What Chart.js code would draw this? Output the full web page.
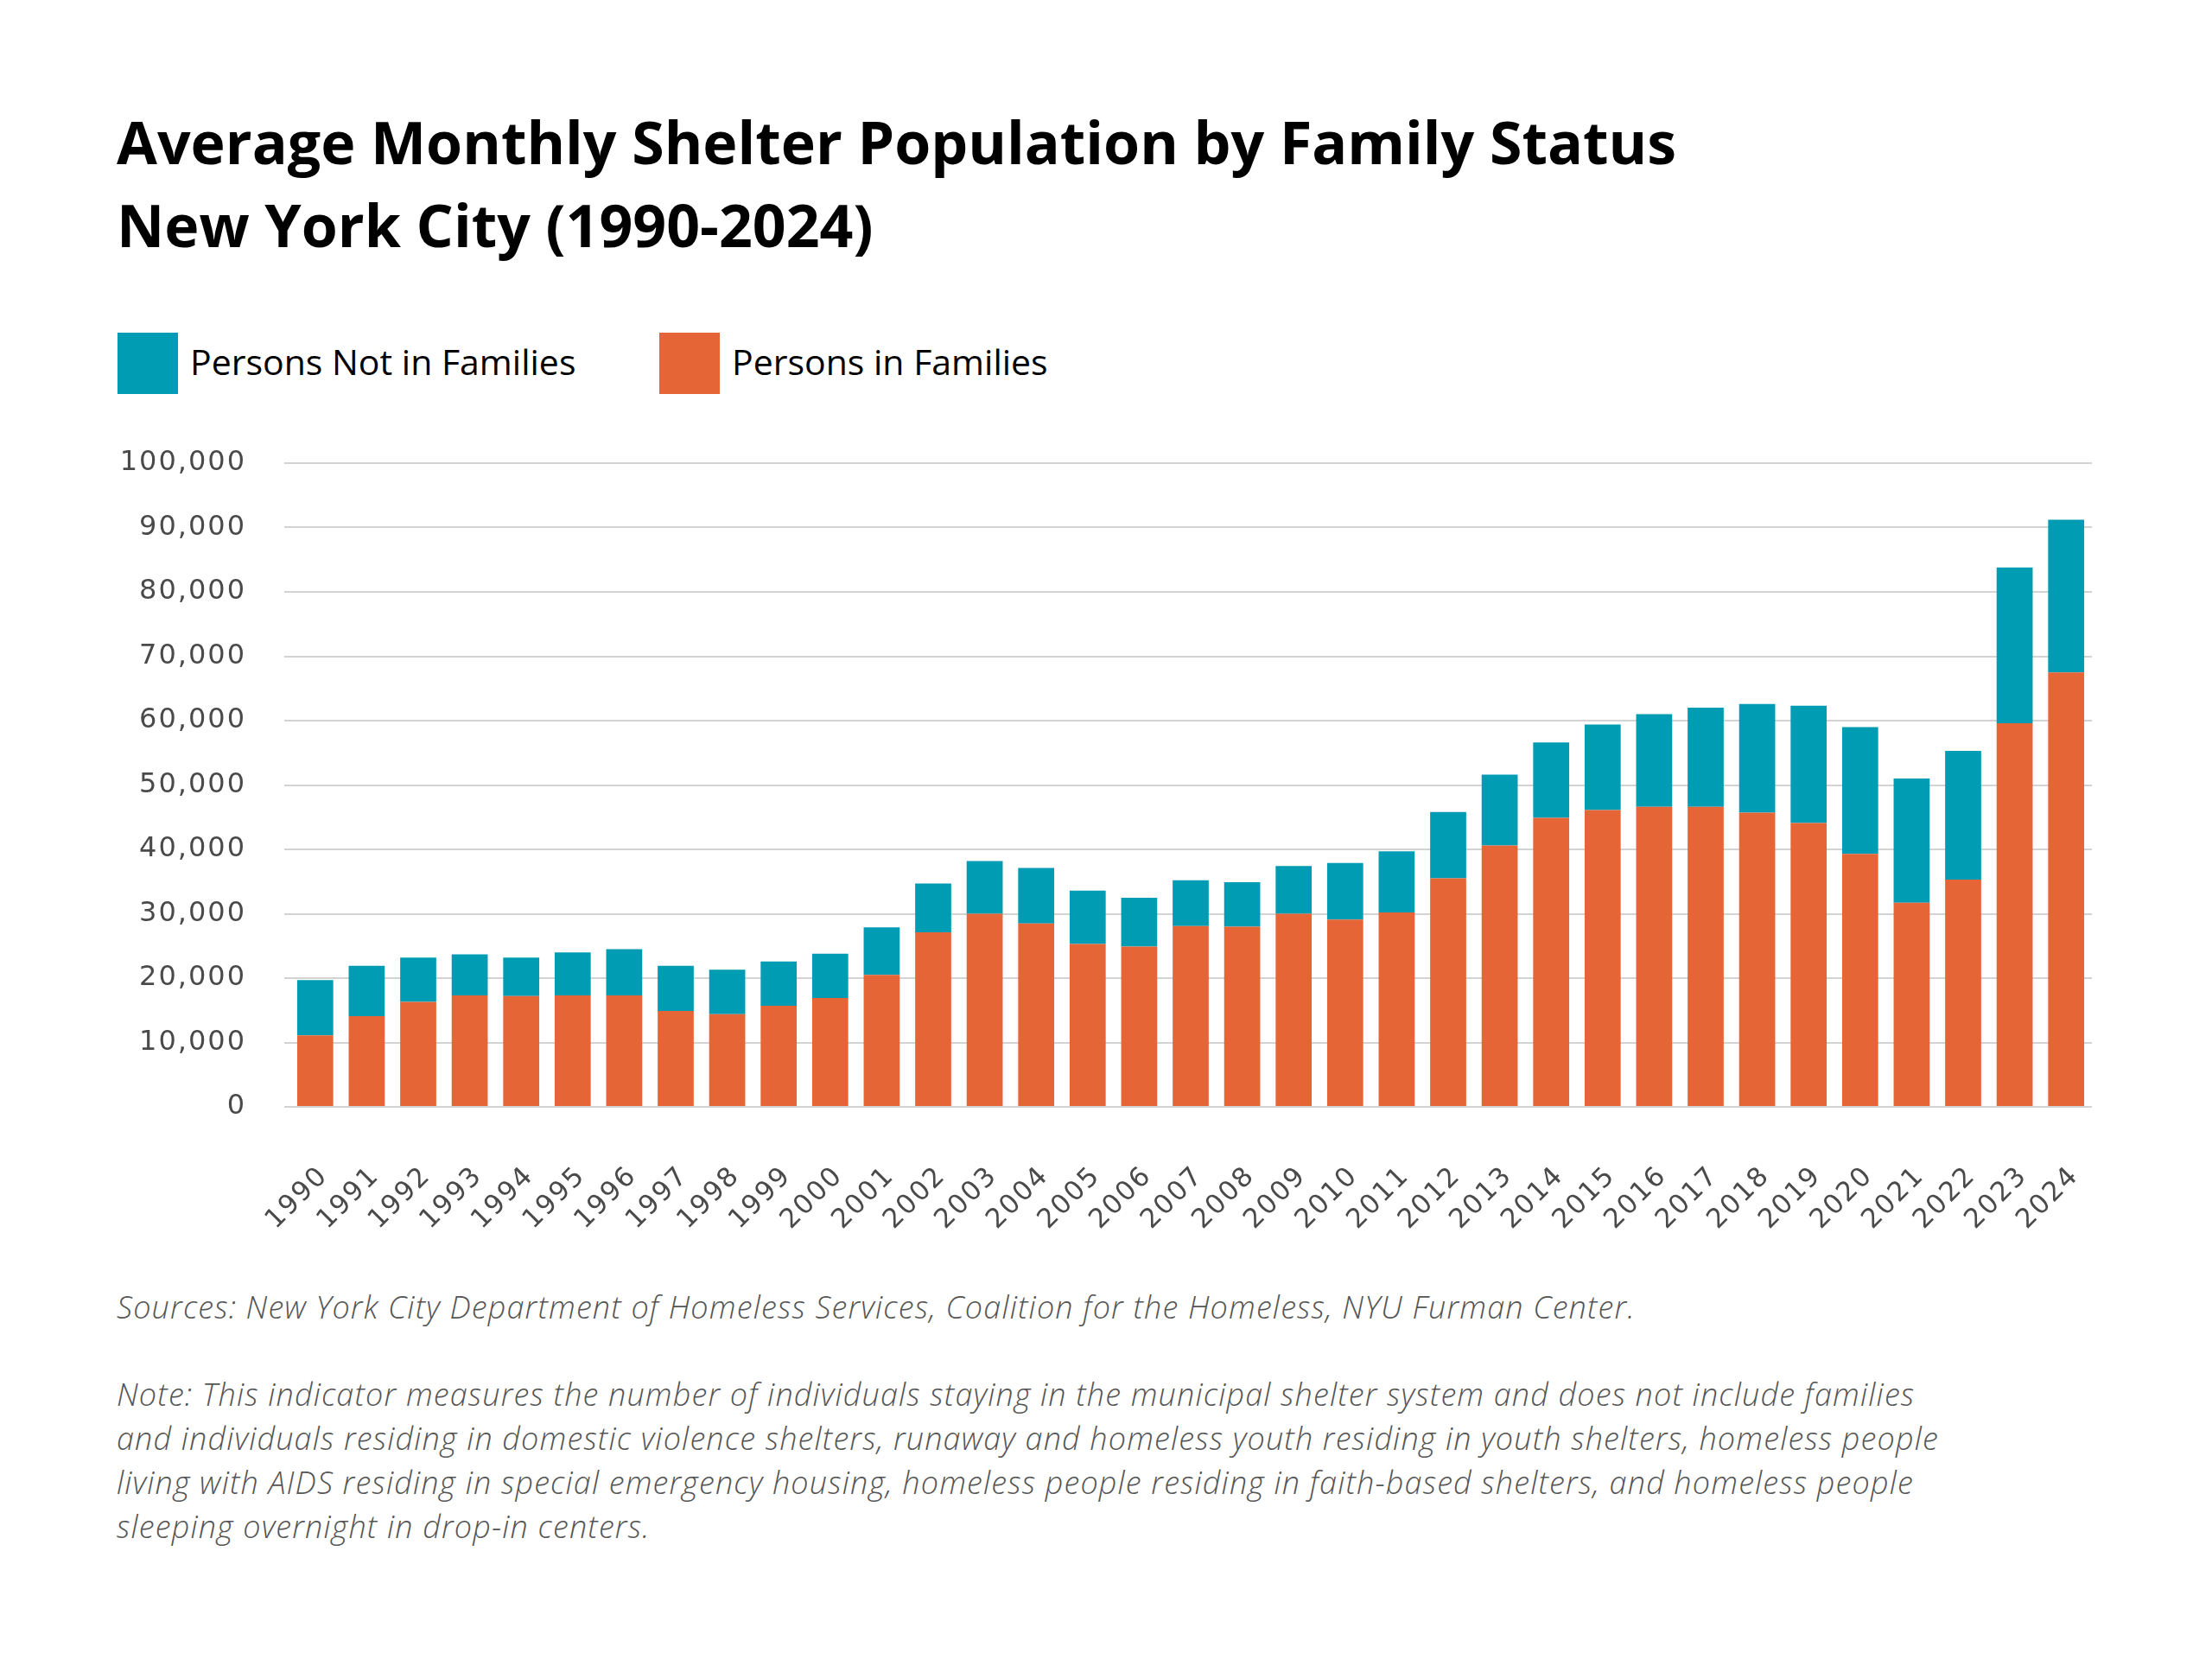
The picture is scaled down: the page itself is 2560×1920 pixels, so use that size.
<!DOCTYPE html>
<html>
<head>
<meta charset="utf-8">
<script src="https://cdn.jsdelivr.net/npm/chart.js@4.4.1/dist/chart.umd.min.js"></script>
<style>
  body { margin: 0; background: #fff; width: 2560px; height: 1920px; position: relative; overflow: hidden; }
  .title { position: absolute; left: 135px; top: 116px; font-family: "Open Sans", sans-serif; font-weight: 700; font-size: 68px; line-height: 96px; color: #000; }
  .legend-item { position: absolute; top: 383px; display: flex; font-family: "Open Sans", sans-serif; font-size: 41px; line-height: 71px; color: #000; }
  .legend-item .box { width: 70px; height: 71px; margin-right: 14px; margin-top: 2px; }
  .notes { position: absolute; left: 135px; font-family: "Open Sans", sans-serif; font-style: italic; font-weight: 300; font-size: 36px; line-height: 51px; letter-spacing: 1.15px; color: #555; }
  #chartWrap { position: absolute; left: 0; top: 500px; width: 2460px; height: 960px; }
</style>
</head>
<body>
<div class="title">Average Monthly Shelter Population by Family Status<br>New York City (1990-2024)</div>
<div class="legend-item" style="left:136px"><div class="box" style="background:#009cb4"></div>Persons Not in Families</div>
<div class="legend-item" style="left:763px"><div class="box" style="background:#e66536"></div>Persons in Families</div>
<div id="chartWrap"><canvas id="shelter" width="2460" height="960"></canvas></div>
<div class="notes" style="top:1487px">Sources: New York City Department of Homeless Services, Coalition for the Homeless, NYU Furman Center.</div>
<div class="notes" style="top:1588px">Note: This indicator measures the number of individuals staying in the municipal shelter system and does not include families<br>and individuals residing in domestic violence shelters, runaway and homeless youth residing in youth shelters, homeless people<br>living with AIDS residing in special emergency housing, homeless people residing in faith-based shelters, and homeless people<br>sleeping overnight in drop-in centers.</div>
<script>
const years = ["1990", "1991", "1992", "1993", "1994", "1995", "1996", "1997", "1998", "1999",
  "2000", "2001", "2002", "2003", "2004", "2005", "2006", "2007", "2008", "2009",
  "2010", "2011", "2012", "2013", "2014", "2015", "2016", "2017", "2018", "2019",
  "2020", "2021", "2022", "2023", "2024"];

const inFamilies = [11100, 14100, 16300, 17300, 17200, 17300, 17300, 14900, 14400, 15700,
  16900, 20500, 27100, 30000, 28500, 25300, 24900, 28100, 28000, 30000,
  29100, 30200, 35500, 40600, 44900, 46100, 46600, 46600, 45700, 44100,
  39300, 31700, 35300, 59600, 67500];

const notInFamilies = [8600, 7800, 6900, 6400, 6000, 6700, 7200, 7000, 6900, 6900,
  6900, 7400, 7600, 8200, 8600, 8300, 7600, 7100, 6900, 7400,
  8800, 9500, 10300, 11000, 11700, 13300, 14400, 15400, 16900, 18200,
  19700, 19300, 20000, 24200, 23700];

const yTicks = [0, 10000, 20000, 30000, 40000, 50000, 60000, 70000, 80000, 90000, 100000];

// wider tick lettering like the original
const letterSpacing = {
  id: "letterSpacing",
  beforeDraw: (chart) => {
    chart.ctx.letterSpacing = "2px";
  },
};

const shelter_chart = document.getElementById("shelter");
new Chart(shelter_chart, {
  type: "bar",
  data: {
    labels: years,
    datasets: [
      {
        label: "Persons in Families",
        data: inFamilies,
        backgroundColor: "#e66536",
        barPercentage: 0.7,
        categoryPercentage: 1,
      },
      {
        label: "Persons Not in Families",
        data: notInFamilies,
        backgroundColor: "#009cb4",
        barPercentage: 0.7,
        categoryPercentage: 1,
      },
    ],
  },
  plugins: [letterSpacing],
  options: {
    responsive: false,
    animation: false,
    devicePixelRatio: 1,
    layout: {
      padding: { top: 36, right: 39, bottom: 0, left: 0 },
    },
    scales: {
      x: {
        stacked: true,
        grid: { display: false },
        border: { display: false },
        ticks: {
          autoSkip: false,
          minRotation: 45,
          maxRotation: 45,
          padding: 54,
          labelOffset: 10,
          color: "#4a4a4a",
          font: { family: "DejaVu Sans", size: 31 },
        },
        afterFit: (scale) => {
          scale.height = 179;
          scale.paddingLeft = 0;
          scale.paddingRight = 0;
        },
      },
      y: {
        stacked: true,
        min: 0,
        max: 100000,
        afterBuildTicks: (scale) => {
          scale.ticks = yTicks.map((v) => ({ value: v }));
        },
        grid: { color: "#d3d3d3", lineWidth: 2, drawTicks: true, tickLength: 6, tickColor: "#d3d3d3" },
        border: { display: false },
        ticks: {
          padding: 44,
          color: "#4a4a4a",
          font: { family: "DejaVu Sans", size: 32 },
          callback: (v) => v.toLocaleString("en-US"),
        },
        afterFit: (scale) => {
          scale.width = 335;
          scale.paddingTop = 0;
          scale.paddingBottom = 0;
        },
      },
    },
    plugins: {
      legend: { display: false },
      tooltip: { enabled: false },
    },
  },
});
</script>
</body>
</html>
